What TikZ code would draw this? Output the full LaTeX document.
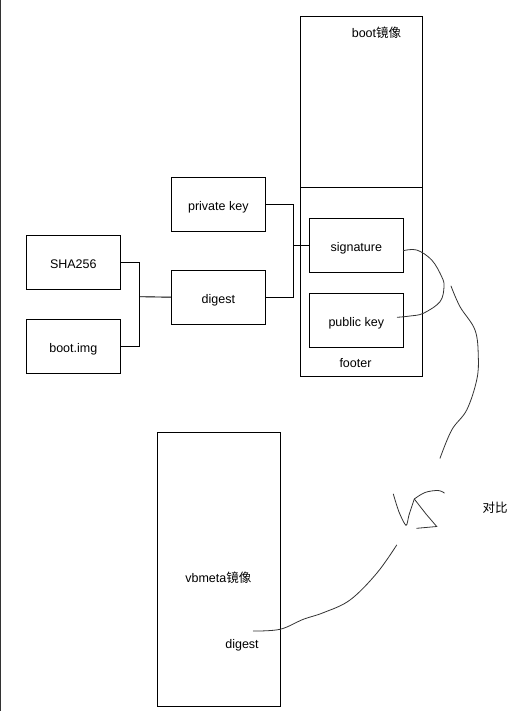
\documentclass[tikz,border=0pt]{standalone}
\usepackage{fontspec}
\setmainfont{Liberation Sans}
\newfontfamily\cjk{Noto Sans CJK SC}
\begin{document}
\begin{tikzpicture}[x=1pt,y=-1pt,
  box/.style={draw=black,line width=0.9pt,inner sep=0pt,minimum width=94pt,minimum height=54pt,text height=11.6pt,text depth=0pt,font=\fontsize{12.5}{14}\selectfont},
  lbl/.style={inner sep=0pt,font=\fontsize{12.5}{14}\selectfont},
  wire/.style={draw=black,line width=0.9pt},
  hand/.style={draw=black!80,line width=0.8pt,line cap=round}]
\useasboundingbox (0,0) rectangle (523,711);
\draw[draw=black!80,line width=1.3pt] (0.6,0) -- (0.6,711);
% boot image
\node[box,minimum width=122pt,minimum height=171pt,anchor=north west] (bootimage) at (300,16) {};
\node[box,minimum width=122pt,minimum height=189pt,anchor=north west] (footer) at (300,187) {};
\node[lbl] (boottxt) at (376.5,33) {boot{\cjk 镜像}};
\node[lbl] (footertxt) at (355.5,363.5) {footer};
\node[box] (sig) at (356.3,245.2) {signature};
\node[box] (pub) at (356.3,320.2) {public key};
% left boxes
\node[box,minimum width=93.3pt] (sha) at (73.3,262.3) {SHA256};
\node[box,minimum width=93.3pt] (bimg) at (73.3,346.3) {boot.img};
\node[box] (priv) at (218.3,204.3) {private key};
\node[box] (dig) at (218.3,297.2) {digest};
% connectors
\coordinate (j1) at (139.3,296.7);
\coordinate (j2) at (293.3,245.2);
\draw[wire] (sha.east) -| (j1) |- (bimg.east);
\draw[wire] (j1) -- (dig.west);
\draw[wire] (priv.east) -| (j2) |- (dig.east);
\draw[wire] (j2) -- (sig.west);
% vbmeta
\node[box,minimum width=123pt,minimum height=273.7pt,anchor=north west] (vbmeta) at (157.3,432.3) {};
\node[lbl] (vbtxt) at (218.3,577.8) {vbmeta{\cjk 镜像}};
\node[lbl] (vbdig) at (242,644.8) {digest};
\node[lbl] (cmp) at (495,507.5) {\cjk 对比};
% hand-drawn strokes
\draw[hand] plot[smooth,tension=0.6] coordinates {(403.3,250.7) (416.7,250) (431.7,260) (441.7,276.7) (444,286.7) (440,301.7) (423.3,313.3) (410,316) (397.3,317.3)};
\draw[hand] plot[smooth,tension=0.6] coordinates {(451,286) (460,306.7) (475,330) (478.3,356.7) (476.7,380) (466.7,410) (451.7,430) (440,458.3)};
\draw[hand] plot[smooth,tension=0.5] coordinates {(393.3,494) (399,512) (406,525.3) (409,515) (414.3,499)};
\draw[hand] plot[smooth,tension=0.6] coordinates {(444.3,493) (438,490.5) (425,492.5) (414.3,499)};
\draw[hand] (414.3,499) -- (426,514) -- (436.7,526.5) -- (416.7,528.3);
\draw[hand] plot[smooth,tension=0.6] coordinates {(253.3,631) (280,629.3) (303.3,619.3) (323.3,612.7) (350,600) (376.7,573.3) (396.7,545)};
\end{tikzpicture}
\end{document}
